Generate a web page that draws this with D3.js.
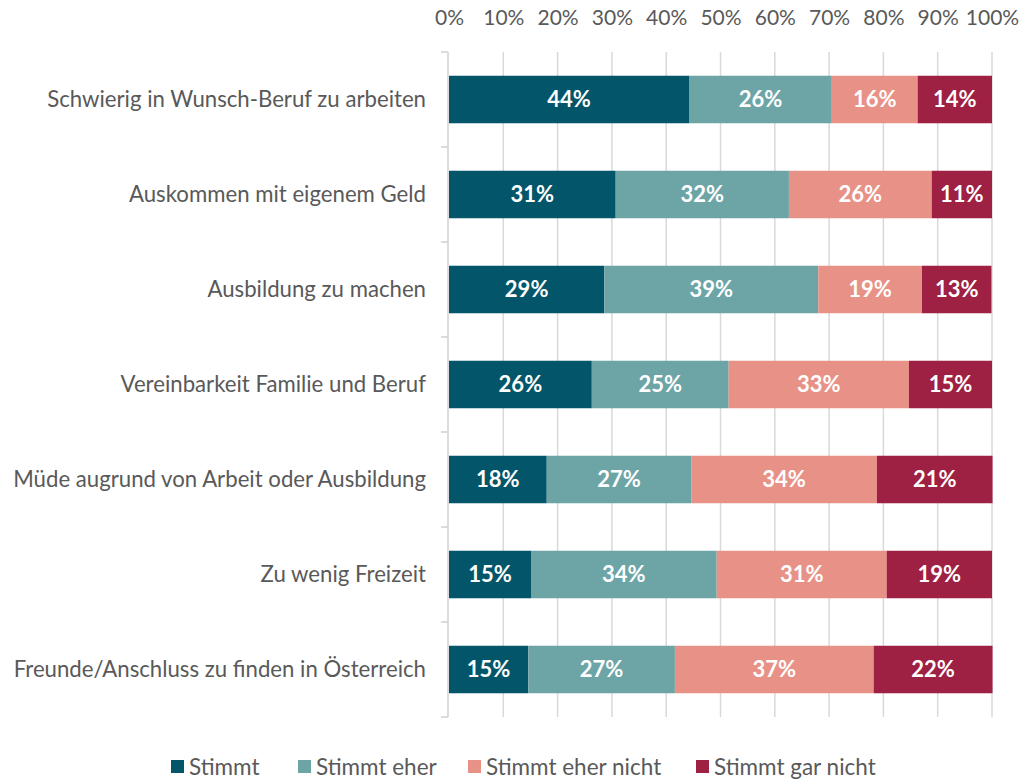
<!DOCTYPE html>
<html>
<head>
<meta charset="utf-8">
<script src="https://cdn.jsdelivr.net/npm/d3@7"></script>
<style>
  body { margin: 0; background: #fff; }
  text { font-family: Lato, "Open Sans", sans-serif; }
</style>
</head>
<body>
<svg id="chart" width="1023" height="779"></svg>
<script>
// categories (top to bottom)
var categories = [
    "Schwierig in Wunsch-Beruf zu arbeiten",
    "Auskommen mit eigenem Geld",
    "Ausbildung zu machen",
    "Vereinbarkeit Familie und Beruf",
    "Müde augrund von Arbeit oder Ausbildung",
    "Zu wenig Freizeit",
    "Freunde/Anschluss zu finden in Österreich"
];
var seriesNames = ["Stimmt", "Stimmt eher", "Stimmt eher nicht", "Stimmt gar nicht"];
var stimmt       = [44.2, 30.7, 28.6, 26.3, 18.0, 15.1, 14.6];
var stimmtEher   = [26.3, 31.9, 39.4, 25.2, 26.6, 34.2, 27.0];
var eherNicht    = [15.8, 26.3, 19.1, 33.2, 34.2, 31.3, 36.6];
var garNicht     = [13.7, 11.1, 12.8, 15.3, 21.3, 19.4, 21.9];
var tickValues = [0, 10, 20, 30, 40, 50, 60, 70, 80, 90, 100];
var colors = ["#03566a", "#6da5a7", "#e89287", "#9e2042"];

var rows = categories.map(function(c, i) {
    return {
        cat: c,
        "Stimmt": stimmt[i],
        "Stimmt eher": stimmtEher[i],
        "Stimmt eher nicht": eherNicht[i],
        "Stimmt gar nicht": garNicht[i]
    };
});

var svg = d3.select("#chart");
var plotLeft = 449, plotRight = 992, plotTop = 52, plotBottom = 717;

var x = d3.scaleLinear().domain([0, 100]).range([plotLeft, plotRight]);
var y = d3.scaleBand().domain(categories).range([plotTop, plotBottom]).paddingInner(0.5).paddingOuter(0.25);
var color = d3.scaleOrdinal().domain(seriesNames).range(colors);

// vertical gridlines
svg.append("g").selectAll("line")
    .data(tickValues.slice(1))
    .enter().append("line")
    .attr("x1", function(d) { return x(d); })
    .attr("x2", function(d) { return x(d); })
    .attr("y1", plotTop).attr("y2", plotBottom)
    .attr("stroke", "#d9d9d9").attr("stroke-width", 1.5);

// left category axis line with small ticks at band boundaries
svg.append("line")
    .attr("x1", plotLeft - 1).attr("x2", plotLeft - 1)
    .attr("y1", plotTop).attr("y2", plotBottom)
    .attr("stroke", "#d0d0d0").attr("stroke-width", 1.5);
var step = y.step();
svg.append("g").selectAll("line")
    .data(d3.range(categories.length + 1))
    .enter().append("line")
    .attr("x1", plotLeft - 8).attr("x2", plotLeft - 1)
    .attr("y1", function(i) { return plotTop + i * step; })
    .attr("y2", function(i) { return plotTop + i * step; })
    .attr("stroke", "#d0d0d0").attr("stroke-width", 1.5);

// top percent axis
var xAxis = d3.axisTop(x).tickValues(tickValues).tickSize(0).tickFormat(function(d) { return d + "%"; });
var gx = svg.append("g").attr("transform", "translate(0,28)").call(xAxis);
gx.select(".domain").remove();
gx.selectAll("text").attr("fill", "#595959").style("font-size", "21px").style("font-family", "Lato, sans-serif");

// category labels
svg.append("g").selectAll("text")
    .data(categories)
    .enter().append("text")
    .attr("x", 426)
    .attr("y", function(d) { return y(d) + y.bandwidth() / 2; })
    .attr("dy", "0.35em")
    .attr("text-anchor", "end")
    .attr("fill", "#595959")
    .style("font-size", "22.2px")
    .text(function(d) { return d; });

// stacked bars
var stack = d3.stack().keys(seriesNames);
var layers = svg.append("g").selectAll("g")
    .data(stack(rows))
    .enter().append("g")
    .attr("fill", function(d) { return color(d.key); });

layers.selectAll("rect")
    .data(function(d) { return d; })
    .enter().append("rect")
    .attr("x", function(d) { return x(d[0]); })
    .attr("y", function(d) { return y(d.data.cat); })
    .attr("width", function(d) { return x(d[1]) - x(d[0]); })
    .attr("height", y.bandwidth());

layers.selectAll("text")
    .data(function(d) { return d; })
    .enter().append("text")
    .attr("x", function(d) { return (x(d[0]) + x(d[1])) / 2; })
    .attr("y", function(d) { return y(d.data.cat) + y.bandwidth() / 2; })
    .attr("dy", "0.35em")
    .attr("text-anchor", "middle")
    .attr("fill", "#fff")
    .style("font-size", "22px")
    .style("font-weight", "bold")
    .text(function(d) { return Math.round(d[1] - d[0]) + "%"; });

// legend
var legendX = [171, 298, 468, 696];
var legend = svg.append("g").selectAll("g")
    .data(seriesNames)
    .enter().append("g")
    .attr("transform", function(d, i) { return "translate(" + legendX[i] + ",760)"; });
legend.append("rect")
    .attr("width", 13).attr("height", 13)
    .attr("fill", function(d) { return color(d); });
legend.append("text")
    .attr("x", 18).attr("y", 7)
    .attr("dy", "0.35em")
    .attr("fill", "#595959")
    .style("font-size", "22.5px")
    .text(function(d) { return d; });
</script>
</body>
</html>
